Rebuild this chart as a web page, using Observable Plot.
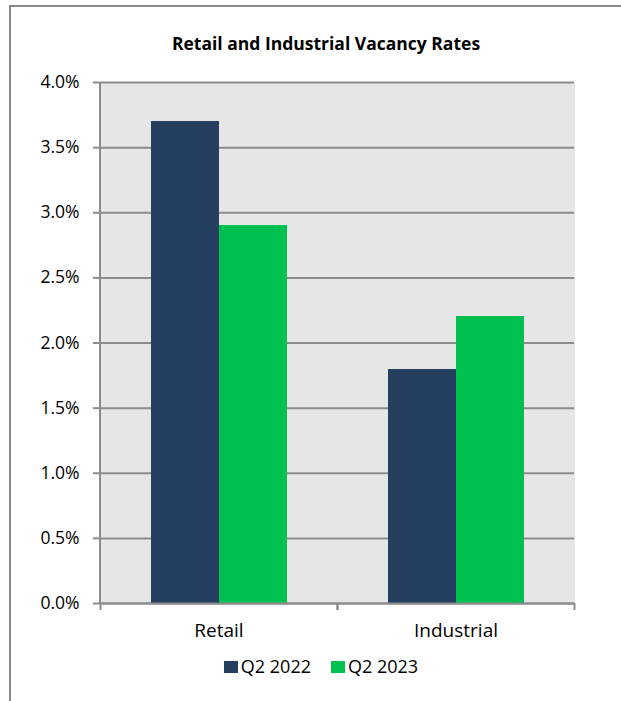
<!DOCTYPE html>
<html>
<head>
<meta charset="utf-8">
<script src="https://cdn.jsdelivr.net/npm/d3@7"></script>
<script src="https://cdn.jsdelivr.net/npm/@observablehq/plot@0.6"></script>
<style>
  html, body { margin: 0; padding: 0; background: #fff; }
  body { width: 621px; height: 701px; position: relative; overflow: hidden; font-family: "Open Sans", "Noto Sans", sans-serif; }
  #frame { position: absolute; left: 9px; top: 5px; width: 700px; height: 800px; border-top: 2px solid #8a8a8a; border-left: 2px solid #8a8a8a; box-sizing: border-box; }
  #title { position: absolute; top: 31px; left: 0; width: 652px; text-align: center; font-weight: bold; font-size: 17.5px; line-height: 24px; color: #000; }
  #chart { position: absolute; top: 62px; left: 0; }
  #legend { position: absolute; top: 655px; left: 0; width: 642px; display: flex; justify-content: center; gap: 20px; font-size: 18px; line-height: 22px; color: #000; }
  .item { display: flex; align-items: center; gap: 3px; }
  .sw { width: 14px; height: 12px; display: inline-block; margin-top: 2px; }
</style>
</head>
<body>
<div id="frame"></div>
<div id="title">Retail and Industrial Vacancy Rates</div>
<div id="chart"></div>
<div id="legend"></div>
<script>
const categories = ["Retail", "Industrial"];
const series = ["Q2 2022", "Q2 2023"];
const q2022 = [0.037, 0.018];
const q2023 = [0.029, 0.022];
const yTicks = [0, 0.005, 0.01, 0.015, 0.02, 0.025, 0.03, 0.035, 0.04];
const colors = ["#243f60", "#00c050"];

const data = [];
categories.forEach((c, i) => {
  data.push({category: c, series: series[0], value: q2022[i]});
  data.push({category: c, series: series[1], value: q2023[i]});
});

const width = 621, height = 580;
const marginLeft = 100, marginRight = 47, marginTop = 20, marginBottom = 39;
const step = (width - marginLeft - marginRight) / categories.length;
const grid = "#8c8c8c";

const plot = Plot.plot({
  width, height,
  marginTop, marginBottom, marginLeft, marginRight,
  style: {fontFamily: "'Open Sans', 'Noto Sans', sans-serif", fontSize: "17px", color: "#000", background: "transparent"},
  fx: {domain: categories, padding: 0, label: null, axis: null},
  x: {domain: series, paddingInner: 0, paddingOuter: 0.72, axis: null},
  y: {domain: [0, 0.04], axis: null},
  color: {domain: series, range: colors},
  marks: [
    Plot.frame({fill: "#e6e6e6", stroke: null, shapeRendering: "crispEdges"}),
    Plot.gridY(yTicks, {stroke: grid, strokeOpacity: 1, strokeWidth: 2}),
    Plot.barY(data, {fx: "category", x: "series", y: "value", fill: "series", shapeRendering: "crispEdges"}),
    Plot.ruleY([0], {stroke: grid, strokeWidth: 2}),
    Plot.axisY(yTicks, {tickFormat: d3.format(".1%"), tickSize: 7, tickPadding: 14, stroke: grid, strokeWidth: 2, label: null, fontSize: 17.5}),
    Plot.axisFx({anchor: "bottom", tickSize: 0, tickPadding: 20, label: null, fontSize: 19}),
    Plot.axisFx({anchor: "bottom", tickSize: 7, text: null, dx: -step / 2, stroke: grid, strokeWidth: 2, label: null}),
    Plot.axisFx({anchor: "bottom", tickSize: 7, text: null, dx: step / 2, stroke: grid, strokeWidth: 2, label: null})
  ]
});

// y axis line
const svg = d3.select(plot);
svg.append("line")
  .attr("x1", marginLeft).attr("x2", marginLeft)
  .attr("y1", marginTop).attr("y2", height - marginBottom)
  .attr("stroke", grid).attr("stroke-width", 2);

document.getElementById("chart").appendChild(plot);

const legend = document.getElementById("legend");
series.forEach((s, i) => {
  const item = document.createElement("span");
  item.className = "item";
  const sw = document.createElement("span");
  sw.className = "sw";
  sw.style.background = colors[i];
  item.appendChild(sw);
  const t = document.createElement("span");
  t.textContent = s;
  item.appendChild(t);
  legend.appendChild(item);
});
</script>
</body>
</html>
